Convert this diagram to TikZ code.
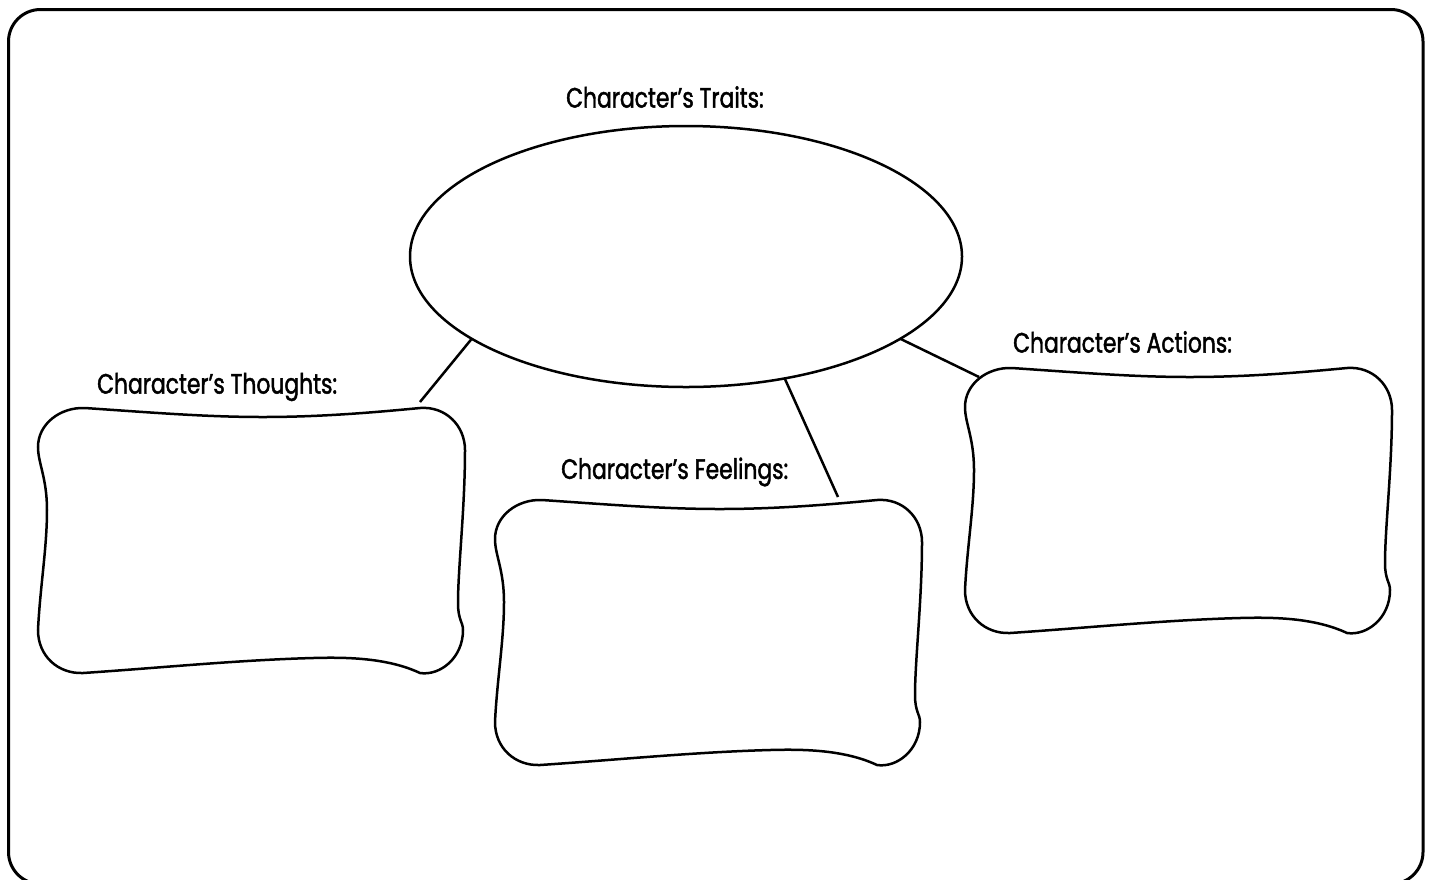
\documentclass[tikz,border=0pt]{standalone}
\usepackage{fontspec}
\setmainfont[FakeStretch=0.78,FakeBold=1.6]{Poppins}
\usetikzlibrary{shapes.geometric}
\tikzset{
  blob/.pic={
    \draw[line width=2.5pt] (47,0) .. controls (120,5) and (170,9) .. (225,9)
      .. controls (285,9) and (340,4) .. (382,0)
      .. controls (408,-2) and (427,18) .. (427,42)
      .. controls (427,100) and (420,160) .. (420,195)
      .. controls (420,212) and (425,214) .. (425,222)
      .. controls (425,250) and (402,268) .. (382,265)
      .. controls (350,250) and (310,249) .. (275,250)
      .. controls (200,252) and (120,260) .. (45,265)
      .. controls (20,266) and (0,248) .. (0,222)
      .. controls (2,180) and (9,140) .. (9,102)
      .. controls (9,70) and (0,55) .. (0,39)
      .. controls (0,16) and (22,-1) .. (47,0) -- cycle;
  },
  heading/.style={font=\fontsize{28}{30}\selectfont, anchor=west, inner sep=0pt},
  link/.style={line width=2.5pt}
}
\begin{document}
\begin{tikzpicture}[x=1pt,y=-1pt]
\useasboundingbox (0,0) rectangle (1434,879);
\draw[line width=3pt, rounded corners=32] (8.5,9.5) rectangle (1423,884);
% centre
\node[draw, ellipse, line width=2.5pt, minimum width=552, minimum height=261,
  inner sep=0pt, outer sep=0pt] (traits) at (686,256.5) {};
\node[heading] (traitsText) at (566,97) {Character’s Traits:};
% boxes
\pic (thoughts) at (38,408) {blob};
\pic (feelings) at (495,500) {blob};
\pic (actions) at (965,368) {blob};
\node[heading] (thoughtsText) at (97,387) {Character’s Thoughts:};
\node[heading] (feelingsText) at (561,472) {Character’s Feelings:};
\node[heading] (actionsText) at (1013,342) {Character’s Actions:};
% links
\coordinate (thoughtsTip) at (420,402);
\coordinate (feelingsTip) at (838,497);
\coordinate (actionsTip) at (979,377);
\draw[link] (traits.201) -- (thoughtsTip);
\draw[link] (traits.309) -- (feelingsTip);
\draw[link] (traits.339) -- (actionsTip);
\end{tikzpicture}
\end{document}
